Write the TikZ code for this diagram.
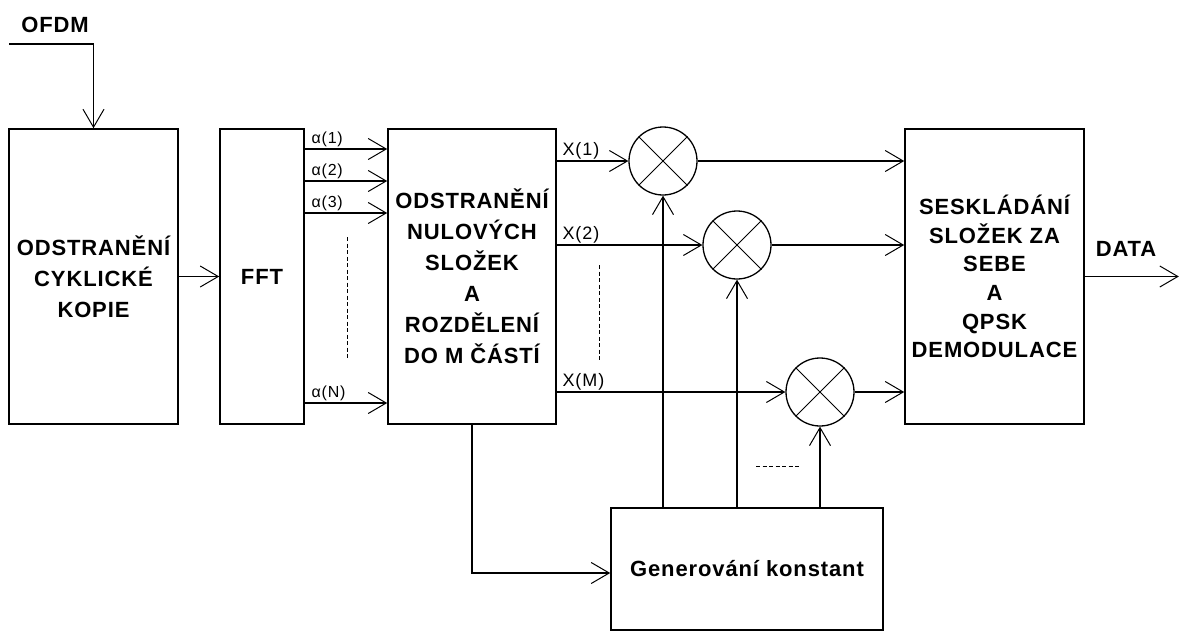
\documentclass[tikz,border=0pt]{standalone}
\usepackage{fontspec}
\setmainfont{Liberation Sans}
\newfontfamily\boxfont{Liberation Sans}[LetterSpace=4]
\newfontfamily\labfont{Liberation Sans}[LetterSpace=5]
\usetikzlibrary{arrows.meta}

\begin{document}
\begin{tikzpicture}[x=1pt, y=-1pt,
    block/.style={draw, line width=1.6pt, inner sep=0pt, align=center,
        font=\boxfont\bfseries\fontsize{22}{31}\selectfont},
    mult/.style={draw, circle, line width=1.3pt, minimum size=68pt, inner sep=0pt},
    conn/.style={line width=1.6pt, -{Straight Barb[length=18pt, width=21pt, line width=1pt]}},
    dots/.style={line width=1pt, dash pattern=on 4pt off 2.5pt},
    inlab/.style={font=\labfont\fontsize{16}{16}\selectfont, inner sep=1pt},
    outlab/.style={font=\labfont\fontsize{18}{18}\selectfont, inner sep=1pt}]
    \useasboundingbox (0,0) rectangle (1180,632);

    % Removal of cyclic prefix
    \node[block, minimum width=169pt, minimum height=295pt] (cyclic) at (93.5,276.5)
        {ODSTRANĚNÍ\\CYKLICKÉ\\KOPIE};
    \coordinate (src) at (9,44);
    \node[font=\boxfont\bfseries\fontsize{22}{24}\selectfont] (ofdmlab) at (55,25) {OFDM};
    \draw[conn] (src) -| (cyclic.north);

    % FFT box
    \node[block, minimum width=84pt, minimum height=295pt] (fft) at (262,276.5) {FFT};
    \draw[conn] (cyclic.east) -- (fft.west);

    % Removal of zero components and splitting
    \node[block, minimum width=168pt, minimum height=295pt] (split) at (472,276.5)
        {ODSTRANĚNÍ\\NULOVÝCH\\SLOŽEK\\A\\ROZDĚLENÍ\\DO M ČÁSTÍ};
    \foreach \y/\k in {149/1, 181/2, 213/3, 403/N}
        \draw[conn] (fft.east |- 0,\y) -- (split.west |- 0,\y)
            node[inlab, above right, pos=0, xshift=5pt] {α(\k)};
    \draw[dots] (347,237) -- (347,360);

    % Combining and QPSK demodulation
    \node[block, minimum width=179pt, minimum height=295pt,
        font=\boxfont\bfseries\fontsize{22}{28.6}\selectfont] (combine) at (994.5,276.5)
        {SESKLÁDÁNÍ\\SLOŽEK ZA\\SEBE\\A\\QPSK\\DEMODULACE};
    \draw[conn] (combine.east) -- ++(94,0);
    \node[font=\boxfont\bfseries\fontsize{22}{24}\selectfont] (datalab) at (1126,249) {DATA};

    % Constant generator
    \node[block, minimum width=272pt, minimum height=122pt,
        font=\boxfont\bfseries\fontsize{22}{24}\selectfont] (gen) at (747,569)
        {Generování konstant};
    \draw[conn] (split.south) |- ([yshift=-4pt]gen.west);

    % Multipliers
    \foreach \m/\x/\y/\k in {mul1/663/161/1, mul2/737/245/2, mul3/820/392/M} {
        \node[mult] (\m) at (\x,\y) {};
        \draw[line width=1pt] (\m.north west) -- (\m.south east)
            (\m.north east) -- (\m.south west);
        \draw[conn] (\m.west -| split.east) -- (\m.west)
            node[outlab, above right, pos=0, xshift=4pt] {X(\k)};
        \draw[conn] (gen.north -| \m.south) -- (\m.south);
        \draw[conn] (\m.east) -- (\m.east -| combine.west);
    }
    \draw[dots] (599,265) -- (599,360);
    \draw[dots] (756,466) -- (800,466);
\end{tikzpicture}
\end{document}
